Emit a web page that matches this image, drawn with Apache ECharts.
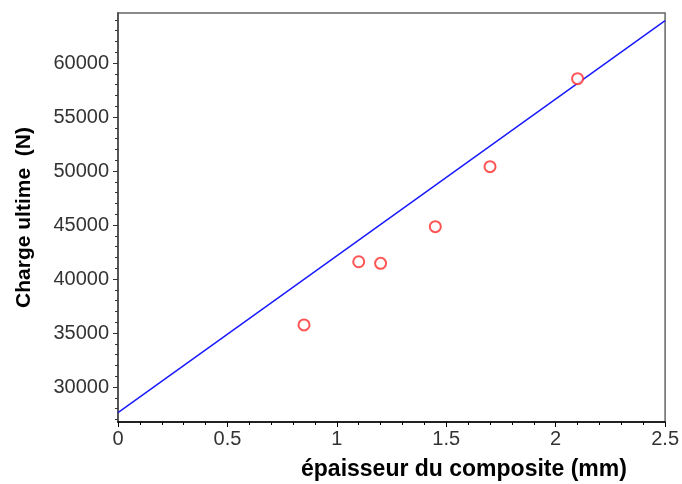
<!DOCTYPE html>
<html lang="fr">
<head>
  <meta charset="UTF-8">
  <title>Charge ultime</title>
  <script src="https://cdn.jsdelivr.net/npm/echarts@6/dist/echarts.min.js"></script>
  <style>
    html, body { margin: 0; padding: 0; background: #fff; }
    #chart { width: 682px; height: 484px; }
  </style>
</head>
<body>
  <div id="chart"></div>
  <script>
    // mesures (épaisseur en mm, charge en N)
    var aEpaisseur = [0.85, 1.1, 1.2, 1.45, 1.7, 2.1];
    var aCharge = [35750, 41600, 41450, 44850, 50400, 58550];
    // droite de régression, lue aux deux bords
    var aFitX = [0, 2.5];
    var aFitY = [27620, 63920];
    var aYLabels = [30000, 35000, 40000, 45000, 50000, 55000, 60000];
    var aYMinor = [27000, 28000, 29000, 31000, 32000, 33000, 34000, 36000, 37000, 38000, 39000,
      41000, 42000, 43000, 44000, 46000, 47000, 48000, 49000, 51000, 52000, 53000, 54000,
      56000, 57000, 58000, 59000, 61000, 62000, 63000, 64000];

    var pts = [];
    for (var i = 0; i < aEpaisseur.length; i++) {
      pts.push([aEpaisseur[i], aCharge[i]]);
    }
    var fit = [];
    for (var j = 0; j < aFitX.length; j++) {
      fit.push([aFitX[j], aFitY[j]]);
    }

    var yMin = 26760, yMax = 64630;
    var fontFam = '"Liberation Sans", Arial, sans-serif';

    var oChart = echarts.init(document.getElementById('chart'));
    var opt = {
      animation: false,
      grid: {
        left: 118, right: 15, top: 13, bottom: 62,
        show: true,
        borderColor: '#666',
        borderWidth: 1.5,
        backgroundColor: '#fff'
      },
      xAxis: {
        type: 'value',
        min: 0,
        max: 2.5,
        interval: 0.5,
        axisLine: { show: true, lineStyle: { color: '#000', width: 1.5 } },
        axisTick: { show: true, length: 5, lineStyle: { color: '#000' } },
        minorTick: { show: true, splitNumber: 5, length: 3, lineStyle: { color: '#000' } },
        splitLine: { show: false },
        axisLabel: {
          margin: 7,
          color: '#333',
          fontSize: 20,
          fontFamily: fontFam
        }
      },
      yAxis: [
        {
          type: 'value',
          min: yMin,
          max: yMax,
          axisLine: { show: true, lineStyle: { color: '#555', width: 2 } },
          axisTick: { show: true, length: 5, customValues: aYLabels, lineStyle: { color: '#333' } },
          splitLine: { show: false },
          axisLabel: {
            customValues: aYLabels,
            margin: 9,
            color: '#333',
            fontSize: 20,
            fontFamily: fontFam,
            formatter: function (v) { return String(v); }
          },
          name: 'Charge ultime  (N)',
          nameLocation: 'middle',
          nameGap: 83,
          nameTextStyle: {
            color: '#000',
            fontWeight: 'bold',
            fontSize: 21,
            fontFamily: fontFam
          }
        },
        {
          type: 'value',
          min: yMin,
          max: yMax,
          position: 'left',
          axisLine: { show: false },
          axisTick: { show: true, length: 3, customValues: aYMinor, lineStyle: { color: '#333' } },
          axisLabel: { show: false },
          splitLine: { show: false }
        }
      ],
      graphic: [
        {
          type: 'text',
          left: 301,
          top: 458,
          style: {
            text: 'épaisseur du composite (mm)',
            fill: '#000',
            font: 'bold 23px ' + fontFam
          }
        }
      ],
      series: [
        {
          type: 'line',
          data: fit,
          symbol: 'none',
          lineStyle: { color: '#1a1aff', width: 1.5 },
          z: 2
        },
        {
          type: 'scatter',
          data: pts,
          symbol: 'emptyCircle',
          symbolSize: 11,
          itemStyle: { color: '#ff2a2a', borderWidth: 1.8 },
          z: 3
        }
      ]
    };
    oChart.setOption(opt);
  </script>
</body>
</html>
